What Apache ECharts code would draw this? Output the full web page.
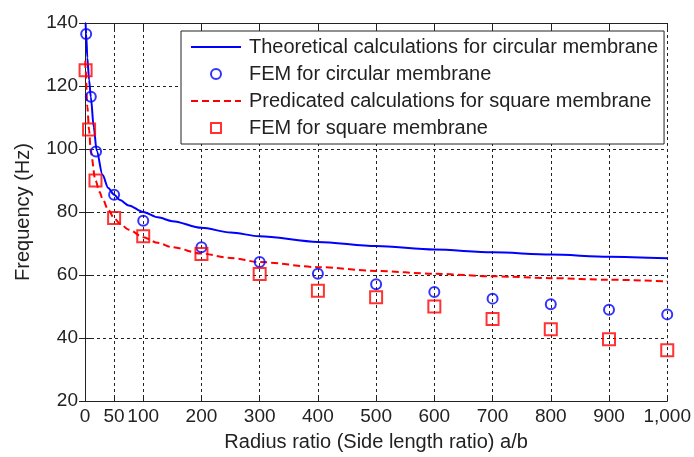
<!DOCTYPE html>
<html>
<head>
<meta charset="utf-8">
<script src="https://cdn.jsdelivr.net/npm/echarts@6/dist/echarts.min.js"></script>
<style>
  html, body { margin: 0; padding: 0; background: #fff; }
  #chart { width: 694px; height: 457px; }
</style>
</head>
<body>
<div id="chart"></div>
<script>
const xTicks = [0, 50, 100, 200, 300, 400, 500, 600, 700, 800, 900, 1000];

const theoryCircle = [
  [1, 140], [2, 136.5], [4, 129], [7, 122], [10, 116.5], [15, 107], [20, 99.5],
  [30, 91.8], [40, 87.6], [50, 85.5], [60, 83.8], [75, 82.1], [100, 80],
  [125, 78.3], [150, 77.1], [200, 75], [250, 73.5], [300, 72.3], [400, 70.5],
  [500, 69.2], [600, 68.1], [700, 67.2], [800, 66.5], [900, 65.8], [1000, 65.3]
];
const femCircle = [
  [2, 136.5], [10, 116.6], [19, 99.2], [50, 85.5], [100, 77.2], [200, 68.8],
  [300, 64.1], [400, 60.4], [500, 57.1], [600, 54.6], [700, 52.5],
  [800, 50.7], [900, 49], [1000, 47.5]
];
const predSquare = [
  [0.5, 128], [1, 125.5], [4, 113.5], [7, 106], [10, 99], [18, 90], [25, 86.4],
  [30, 84.2], [40, 80.7], [50, 78], [60, 76.3], [75, 74.4], [100, 72],
  [125, 70.2], [150, 68.8], [200, 66.8], [250, 65.4], [300, 64.1], [400, 62.5],
  [500, 61.3], [600, 60.4], [700, 59.6], [800, 59], [900, 58.5], [1000, 58]
];
const femSquare = [
  [1, 125], [7, 106.2], [18, 90], [50, 78.1], [100, 72.3], [200, 66.7],
  [300, 60.3], [400, 55], [500, 52.9], [600, 50], [700, 46],
  [800, 42.8], [900, 39.6], [1000, 36.1]
];

const names = [
  "Theoretical calculations for circular membrane",
  "FEM for circular membrane",
  "Predicated calculations for square membrane",
  "FEM for square membrane"
];

const font = "Liberation Sans, Arial, sans-serif";
const ink = "#222";
const gridLine = { show: true, lineStyle: { color: "#222", type: [3, 3], width: 1 } };

const chart = echarts.init(document.getElementById("chart"));

chart.setOption({
  animation: false,
  textStyle: { fontFamily: font },
  grid: { left: 85, top: 23, right: 25, bottom: 51, containLabel: false },
  legend: {
    orient: "vertical",
    left: 181,
    top: 31,
    padding: [6, 6, 6, 9],
    backgroundColor: "#fff",
    borderColor: "#222",
    borderWidth: 1,
    itemWidth: 50,
    itemHeight: 10,
    itemGap: 7,
    symbolKeepAspect: true,
    textStyle: { fontSize: 20, color: ink, fontFamily: font, padding: [0, 0, 0, 3] },
    data: [
      { name: names[0], itemStyle: { opacity: 0 } },
      { name: names[1], icon: "circle", itemStyle: { color: "#fff", borderColor: "#0000ff", borderWidth: 2 } },
      { name: names[2], itemStyle: { opacity: 0 } },
      { name: names[3], icon: "path://M0,0L10,0L10,10L0,10Z", itemStyle: { color: "#fff", borderColor: "#ff0000", borderWidth: 2 } }
    ]
  },
  xAxis: [
    {
      type: "value",
      min: 0,
      max: 1000,
      name: "Radius ratio (Side length ratio) a/b",
      nameLocation: "middle",
      nameGap: 31,
      nameTextStyle: { fontSize: 20, color: ink },
      axisLine: { lineStyle: { color: "#222", width: 1 } },
      axisTick: { inside: true, length: 6, customValues: xTicks, lineStyle: { color: "#222" } },
      axisLabel: {
        customValues: xTicks,
        fontSize: 19,
        color: ink,
        margin: 6,
        formatter: v => v >= 1000 ? "1,000" : String(v)
      },
      splitLine: gridLine
    },
    {
      type: "value",
      position: "top",
      min: 0,
      max: 1000,
      axisLine: { show: true, lineStyle: { color: "#222", width: 1 } },
      axisTick: { show: true, inside: true, length: 6, customValues: xTicks, lineStyle: { color: "#222" } },
      axisLabel: { show: false },
      splitLine: { show: false }
    }
  ],
  yAxis: [
    {
      type: "value",
      min: 20,
      max: 140,
      interval: 20,
      name: "Frequency (Hz)",
      nameLocation: "middle",
      nameGap: 52,
      nameTextStyle: { fontSize: 20, color: ink },
      axisLine: { show: true, lineStyle: { color: "#222", width: 1 } },
      axisTick: { show: true, inside: true, length: 6, lineStyle: { color: "#222" } },
      axisLabel: { fontSize: 19, color: ink, margin: 7 },
      splitLine: gridLine
    },
    {
      type: "value",
      position: "right",
      min: 20,
      max: 140,
      interval: 20,
      axisLine: { show: true, lineStyle: { color: "#222", width: 1 } },
      axisTick: { show: true, inside: true, length: 6, lineStyle: { color: "#222" } },
      axisLabel: { show: false },
      splitLine: { show: false }
    }
  ],
  series: [
    {
      name: names[0],
      type: "line",
      data: theoryCircle,
      symbol: "none",
      smooth: 0.3,
      smoothMonotone: "x",
      clip: true,
      lineStyle: { color: "#0000ff", width: 2 },
      itemStyle: { color: "#0000ff" },
      z: 2
    },
    {
      name: names[1],
      type: "scatter",
      data: femCircle,
      symbol: "circle",
      symbolSize: 10,
      itemStyle: { color: "rgba(0,0,0,0)", borderColor: "#0000ff", borderWidth: 2 },
      z: 4
    },
    {
      name: names[2],
      type: "line",
      data: predSquare,
      symbol: "none",
      smooth: 0.3,
      smoothMonotone: "x",
      clip: true,
      lineStyle: { color: "#ff0000", width: 2, type: [7, 4] },
      itemStyle: { color: "#ff0000" },
      z: 3
    },
    {
      name: names[3],
      type: "scatter",
      data: femSquare,
      symbol: "rect",
      symbolSize: 12,
      itemStyle: { color: "rgba(0,0,0,0)", borderColor: "#ff0000", borderWidth: 2 },
      z: 5
    }
  ]
});
</script>
</body>
</html>
